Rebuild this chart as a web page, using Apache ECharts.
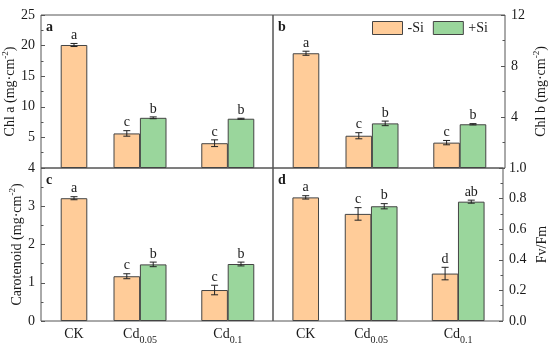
<!DOCTYPE html>
<html>
<head>
<meta charset="utf-8">
<script src="https://cdn.jsdelivr.net/npm/echarts@6/dist/echarts.min.js"></script>
<style>html,body{margin:0;padding:0;background:#fff}#c{width:550px;height:345px}</style>
</head>
<body>
<div id="c"></div>
<script>
// ---- data ----
const catNames = ['CK', 'Cd', 'Cd'];
const catSubs = ['', '0.05', '0.1'];
const groupPos = [1, 2, 3.33];

const chlaNoSi = [20.1, 5.65, 4.05];
const chlaNoSiErr = [0.25, 0.45, 0.55];
const chlaSi = [null, 8.2, 8.05];
const chlaSiErr = [null, 0.15, 0.08];
const chlaLetNoSi = ['a', 'c', 'c'];
const chlaLetSi = [null, 'b', 'b'];

const chlbNoSi = [9.0, 2.53, 1.99];
const chlbNoSiErr = [0.16, 0.24, 0.17];
const chlbSi = [null, 3.5, 3.43];
const chlbSiErr = [null, 0.18, 0.05];
const chlbLetNoSi = ['a', 'c', 'c'];
const chlbLetSi = [null, 'b', 'b'];

const carNoSi = [3.21, 1.17, 0.81];
const carNoSiErr = [0.04, 0.065, 0.125];
const carSi = [null, 1.48, 1.49];
const carSiErr = [null, 0.06, 0.05];
const carLetNoSi = ['a', 'c', 'c'];
const carLetSi = [null, 'b', 'b'];

const fvNoSi = [0.808, 0.70, 0.31];
const fvNoSiErr = [0.011, 0.041, 0.041];
const fvSi = [null, 0.75, 0.78];
const fvSiErr = [null, 0.017, 0.01];
const fvLetNoSi = ['a', 'c', 'd'];
const fvLetSi = [null, 'b', 'ab'];

const yTicksA = {min: 0, max: 25, interval: 5};
const yTicksB = {min: 0, max: 12, interval: 4};
const yTicksC = {min: 0, max: 4, interval: 1};
const yTicksD = {min: 0, max: 1.0, interval: 0.2};

// ---- styles ----
const FONT = "'Liberation Serif', 'Times New Roman', serif";
const ORANGE = '#FFCC99';
const GREEN = '#9AD69C';
const FRAME = '#555';
const BAR_BORDER = '#444';
const TXT = '#1a1a1a';
const OFF = 0.2; // half bar width in x units

const panels = [
  {noSi: chlaNoSi, noSiErr: chlaNoSiErr, si: chlaSi, siErr: chlaSiErr, letNo: chlaLetNoSi, letSi: chlaLetSi, y: yTicksA, pos: 'left', name: 'Chl a (mg·cm', gap: 19, bottom: false, hideMin: true, dec: 0},
  {noSi: chlbNoSi, noSiErr: chlbNoSiErr, si: chlbSi, siErr: chlbSiErr, letNo: chlbLetNoSi, letSi: chlbLetSi, y: yTicksB, pos: 'right', name: 'Chl b (mg·cm', gap: 27, bottom: false, hideMin: true, dec: 0},
  {noSi: carNoSi, noSiErr: carNoSiErr, si: carSi, siErr: carSiErr, letNo: carLetNoSi, letSi: carLetSi, y: yTicksC, pos: 'left', name: 'Carotenoid (mg·cm', gap: 16, bottom: true, hideMin: false, dec: 0},
  {noSi: fvNoSi, noSiErr: fvNoSiErr, si: fvSi, siErr: fvSiErr, letNo: fvLetNoSi, letSi: fvLetSi, y: yTicksD, pos: 'right', name: 'Fv/Fm', gap: 30, bottom: true, hideMin: false, dec: 1}
];
const panelLetters = ['a', 'b', 'c', 'd'];

const grids = [
  {left: 41, top: 15, width: 232, height: 153},
  {left: 273, top: 15, width: 232, height: 153},
  {left: 41, top: 168, width: 232, height: 153},
  {left: 273, top: 168, width: 232, height: 153}
].map(g => Object.assign(g, {show: true, borderColor: FRAME, borderWidth: 1, backgroundColor: 'transparent', containLabel: false}));

const xAxes = [], yAxes = [], series = [], graphics = [];

panels.forEach((p, i) => {
  xAxes.push({
    type: 'value', gridIndex: i, min: 0.5, max: 4.015,
    axisLine: {show: false}, splitLine: {show: false},
    axisTick: {show: false},
    axisLabel: p.bottom ? {
      show: true, customValues: groupPos, margin: 6,
      formatter: (v, idx) => {
        const k = groupPos.indexOf(v);
        const j = k >= 0 ? k : idx;
        return catSubs[j] ? '{c|' + catNames[j] + '}{s|' + catSubs[j] + '}' : '{c|' + catNames[j] + '}';
      },
      rich: {
        c: {fontFamily: FONT, fontSize: 14, color: TXT, lineHeight: 16, verticalAlign: 'top'},
        s: {fontFamily: FONT, fontSize: 10, color: TXT, lineHeight: 10, padding: [8, 0, 0, 0], verticalAlign: 'top'}
      }
    } : {show: false}
  });
  const isFv = p.name === 'Fv/Fm';
  yAxes.push({
    type: 'value', gridIndex: i, position: p.pos,
    min: p.y.min, max: p.y.max, interval: p.y.interval,
    axisLine: {show: false}, splitLine: {show: false},
    axisTick: {show: true, inside: true, length: 4, lineStyle: {color: FRAME}},
    minorTick: {show: true, splitNumber: 2, length: 2.5, lineStyle: {color: FRAME}},
    axisLabel: {
      show: true, margin: 6, showMinLabel: !p.hideMin, showMaxLabel: true,
      fontFamily: FONT, fontSize: 14, color: TXT,
      formatter: v => p.dec ? v.toFixed(p.dec) : String(v)
    },
    name: isFv ? '{n|Fv/Fm}' : '{n|' + p.name + '}{p|-2}{n|)}',
    nameLocation: 'middle', nameGap: p.gap, nameRotate: 90,
    nameTextStyle: {
      rich: {
        n: {fontFamily: FONT, fontSize: 14, color: TXT, lineHeight: 16, verticalAlign: 'bottom'},
        p: {fontFamily: FONT, fontSize: 9, color: TXT, lineHeight: 9, verticalAlign: 'top'}
      }
    }
  });

  const noSiX = groupPos.map((g, k) => p.si[k] == null ? g : g - OFF);
  const siX = groupPos.map(g => g + OFF);
  const noSiData = groupPos.map((g, k) => [noSiX[k], p.noSi[k]]);
  const siData = [];
  groupPos.forEach((g, k) => { if (p.si[k] != null) siData.push([siX[k], p.si[k]]); });

  const barCommon = {type: 'bar', xAxisIndex: i, yAxisIndex: i, barWidth: 26.6, barGap: '-100%', silent: true, animation: false};
  series.push(Object.assign({}, barCommon, {name: '-Si', data: noSiData, itemStyle: {color: ORANGE, borderColor: BAR_BORDER, borderWidth: 1}, z: 2}));
  series.push(Object.assign({}, barCommon, {name: '+Si', data: siData, itemStyle: {color: GREEN, borderColor: BAR_BORDER, borderWidth: 1}, z: 2}));

  const errData = [], errLet = [];
  groupPos.forEach((g, k) => {
    errData.push([noSiX[k], p.noSi[k], p.noSiErr[k]]); errLet.push(p.letNo[k]);
    if (p.si[k] != null) { errData.push([siX[k], p.si[k], p.siErr[k]]); errLet.push(p.letSi[k]); }
  });
  series.push({
    type: 'custom', xAxisIndex: i, yAxisIndex: i, silent: true, animation: false, z: 5,
    encode: {x: 0, y: 1},
    data: errData,
    renderItem: (params, api) => {
      const x = api.value(0), v = api.value(1), e = api.value(2);
      const top = api.coord([x, v + e]);
      const bot = api.coord([x, v - e]);
      const cap = 3.5;
      const ls = {stroke: '#222', lineWidth: 1};
      return {
        type: 'group',
        children: [
          {type: 'line', shape: {x1: top[0], y1: top[1], x2: bot[0], y2: bot[1]}, style: ls},
          {type: 'line', shape: {x1: top[0] - cap, y1: top[1], x2: top[0] + cap, y2: top[1]}, style: ls},
          {type: 'line', shape: {x1: bot[0] - cap, y1: bot[1], x2: bot[0] + cap, y2: bot[1]}, style: ls},
          {type: 'text', style: {text: errLet[params.dataIndex], x: top[0], y: top[1] - 1, textAlign: 'center', textVerticalAlign: 'bottom', font: '14px ' + FONT, fill: TXT}}
        ]
      };
    }
  });

  const g = grids[i];
  graphics.push({type: 'text', left: g.left + 5, top: g.top + 5, style: {text: panelLetters[i], font: 'bold 14px ' + FONT, fill: TXT}, z: 10});
});

const chart = echarts.init(document.getElementById('c'), null, {renderer: 'canvas'});
chart.setOption({
  animation: false,
  backgroundColor: '#fff',
  grid: grids,
  xAxis: xAxes,
  yAxis: yAxes,
  legend: {
    data: ['-Si', '+Si'], left: 372, top: 21, padding: 0, icon: 'rect',
    itemWidth: 30, itemHeight: 13, itemGap: 9,
    itemStyle: {borderColor: BAR_BORDER, borderWidth: 1},
    textStyle: {fontFamily: FONT, fontSize: 14, color: TXT}, selectedMode: false
  },
  graphic: graphics,
  series: series
});
</script>
</body>
</html>
